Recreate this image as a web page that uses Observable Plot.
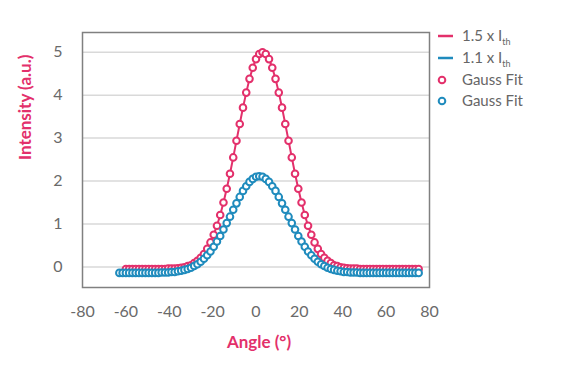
<!DOCTYPE html>
<html>
<head>
<meta charset="utf-8">
<script src="https://cdn.jsdelivr.net/npm/d3@7"></script>
<script src="https://cdn.jsdelivr.net/npm/@observablehq/plot@0.6"></script>
<style>
  html, body { margin: 0; padding: 0; background: #fff; }
  #wrap { position: relative; width: 570px; height: 365px; }
  #legend { position: absolute; left: 0; top: 0; }
  #legend text { font-family: Lato, "Open Sans", sans-serif; fill: #666; font-size: 15px; }
</style>
</head>
<body>
<div id="wrap"></div>
<script>
// Angles (degrees) and intensities (a.u.)
const angleRed = [-60, -58.5, -57, -55.5, -54, -52.5, -51, -49.5, -48, -46.5, -45, -43.5, -42, -40.5, -39, -37.5, -36, -34.5, -33, -31.5, -30, -28.5, -27, -25.5, -24, -22.5, -21, -19.5, -18, -16.5, -15, -13.5, -12, -10.5, -9, -7.5, -6, -4.5, -3, -1.5, 0, 1.5, 3, 4.5, 6, 7.5, 9, 10.5, 12, 13.5, 15, 16.5, 18, 19.5, 21, 22.5, 24, 25.5, 27, 28.5, 30, 31.5, 33, 34.5, 36, 37.5, 39, 40.5, 42, 43.5, 45, 46.5, 48, 49.5, 51, 52.5, 54, 55.5, 57, 58.5, 60, 61.5, 63, 64.5, 66, 67.5, 69, 70.5, 72, 73.5, 75];
const intensityRed = [-0.05, -0.05, -0.05, -0.05, -0.05, -0.05, -0.05, -0.05, -0.05, -0.05, -0.05, -0.05, -0.05, -0.04, -0.04, -0.04, -0.03, -0.02, -0.01, 0.02, 0.04, 0.09, 0.14, 0.21, 0.30, 0.42, 0.57, 0.75, 0.96, 1.21, 1.50, 1.82, 2.17, 2.55, 2.94, 3.33, 3.71, 4.06, 4.38, 4.64, 4.84, 4.96, 5.00, 4.96, 4.84, 4.64, 4.38, 4.06, 3.71, 3.33, 2.94, 2.55, 2.17, 1.82, 1.50, 1.21, 0.96, 0.75, 0.57, 0.42, 0.30, 0.21, 0.14, 0.09, 0.04, 0.02, -0.01, -0.02, -0.03, -0.04, -0.04, -0.04, -0.05, -0.05, -0.05, -0.05, -0.05, -0.05, -0.05, -0.05, -0.05, -0.05, -0.05, -0.05, -0.05, -0.05, -0.05, -0.05, -0.05, -0.05, -0.05];

const angleBlue = [-63, -61.5, -60, -58.5, -57, -55.5, -54, -52.5, -51, -49.5, -48, -46.5, -45, -43.5, -42, -40.5, -39, -37.5, -36, -34.5, -33, -31.5, -30, -28.5, -27, -25.5, -24, -22.5, -21, -19.5, -18, -16.5, -15, -13.5, -12, -10.5, -9, -7.5, -6, -4.5, -3, -1.5, 0, 1.5, 3, 4.5, 6, 7.5, 9, 10.5, 12, 13.5, 15, 16.5, 18, 19.5, 21, 22.5, 24, 25.5, 27, 28.5, 30, 31.5, 33, 34.5, 36, 37.5, 39, 40.5, 42, 43.5, 45, 46.5, 48, 49.5, 51, 52.5, 54, 55.5, 57, 58.5, 60, 61.5, 63, 64.5, 66, 67.5, 69, 70.5, 72, 73.5, 75];
const intensityBlue = [-0.14, -0.14, -0.14, -0.14, -0.14, -0.14, -0.14, -0.14, -0.14, -0.14, -0.14, -0.14, -0.14, -0.13, -0.13, -0.13, -0.12, -0.12, -0.10, -0.09, -0.07, -0.05, -0.02, 0.02, 0.06, 0.12, 0.19, 0.27, 0.36, 0.47, 0.59, 0.72, 0.87, 1.02, 1.17, 1.33, 1.48, 1.63, 1.77, 1.88, 1.98, 2.05, 2.10, 2.11, 2.10, 2.05, 1.98, 1.88, 1.77, 1.63, 1.48, 1.33, 1.17, 1.02, 0.87, 0.72, 0.59, 0.47, 0.36, 0.27, 0.19, 0.12, 0.06, 0.02, -0.02, -0.05, -0.07, -0.09, -0.10, -0.12, -0.12, -0.13, -0.13, -0.13, -0.14, -0.14, -0.14, -0.14, -0.14, -0.14, -0.14, -0.14, -0.14, -0.14, -0.14, -0.14, -0.14, -0.14, -0.14, -0.14, -0.14, -0.14, -0.14];

const xTicks = [-80, -60, -40, -20, 0, 20, 40, 60, 80];
const yTicks = [0, 1, 2, 3, 4, 5];
const seriesNames = ["1.5 x I", "1.1 x I"];
const fitName = "Gauss Fit";
const xLabel = "Angle (°)";
const yLabel = "Intensity (a.u.)";
const colors = ["#e3306b", "#1f8bbd"];

const red = angleRed.map((a, i) => ({angle: a, value: intensityRed[i]}));
const blue = angleBlue.map((a, i) => ({angle: a, value: intensityBlue[i]}));

const font = 'Lato, "Open Sans", sans-serif';

const chart = Plot.plot({
  width: 570,
  height: 365,
  marginLeft: 82,
  marginRight: 141,
  marginTop: 32,
  marginBottom: 78,
  style: {fontFamily: font, background: "#fff"},
  x: {domain: [-80, 80]},
  y: {domain: [-0.48, 5.46]},
  marks: [
    Plot.gridY(yTicks, {stroke: "#d9d9d9", strokeOpacity: 1, strokeWidth: 1.5}),
    Plot.frame({stroke: "#808080", strokeWidth: 1.5}),
    Plot.axisX(xTicks, {tickSize: 0, tickPadding: 18, fontSize: 16, fill: "#6a6a6a", label: null, tickFormat: d => String(d)}),
    Plot.axisY(yTicks, {tickSize: 0, tickPadding: 20, fontSize: 16, fill: "#6a6a6a", label: null, tickFormat: d => String(d)}),
    Plot.line(red, {x: "angle", y: "value", stroke: colors[0], strokeWidth: 2}),
    Plot.dot(red, {x: "angle", y: "value", r: 3.3, stroke: colors[0], strokeWidth: 2, fill: "#fff"}),
    Plot.line(blue, {x: "angle", y: "value", stroke: colors[1], strokeWidth: 2}),
    Plot.dot(blue, {x: "angle", y: "value", r: 3.3, stroke: colors[1], strokeWidth: 2, fill: "#fff"}),
    Plot.text([xLabel], {frameAnchor: "bottom", dy: 60, dx: 3, fill: colors[0], fontSize: 17, fontWeight: "bold"}),
    Plot.text([yLabel], {frameAnchor: "left", dx: -57, rotate: -90, fill: colors[0], fontSize: 17, fontWeight: "bold"})
  ]
});

const wrap = document.getElementById("wrap");
wrap.appendChild(chart);

// legend
const ns = "http://www.w3.org/2000/svg";
const leg = document.createElementNS(ns, "svg");
leg.setAttribute("id", "legend");
leg.setAttribute("width", 570);
leg.setAttribute("height", 365);
const rows = [36, 58, 80, 101];
function el(tag, attrs, parent) {
  const e = document.createElementNS(ns, tag);
  for (const k in attrs) e.setAttribute(k, attrs[k]);
  parent.appendChild(e);
  return e;
}
seriesNames.forEach((name, i) => {
  const y = rows[i];
  el("line", {x1: 438, x2: 453, y1: y, y2: y, stroke: colors[i], "stroke-width": 2.5}, leg);
  const t = el("text", {x: 462, y: y + 5}, leg);
  t.textContent = name;
  const sub = el("tspan", {"font-size": "9px", dy: 4}, t);
  sub.textContent = "th";
});
colors.forEach((c, i) => {
  const y = rows[2 + i];
  el("circle", {cx: 442, cy: y, r: 3.3, fill: "#fff", stroke: c, "stroke-width": 2}, leg);
  const t = el("text", {x: 462, y: y + 5}, leg);
  t.textContent = fitName;
});
wrap.appendChild(leg);
</script>
</body>
</html>
